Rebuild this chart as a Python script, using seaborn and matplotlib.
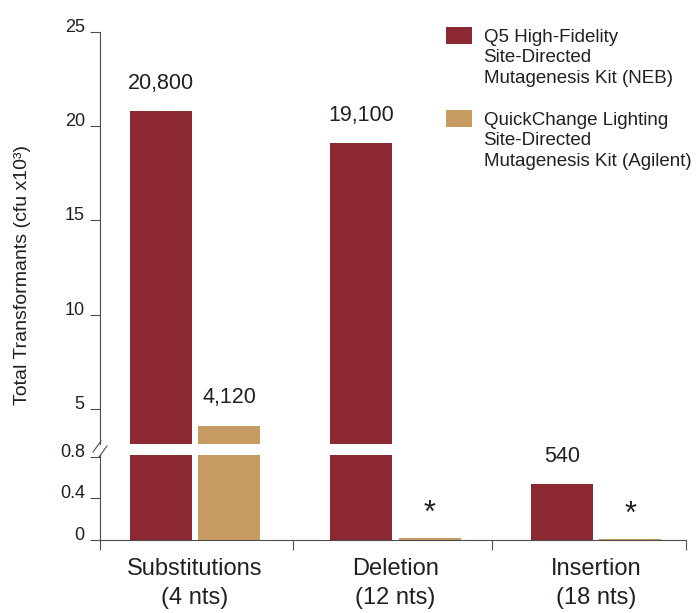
import pandas as pd
import seaborn as sns
import matplotlib.pyplot as plt
from matplotlib.patches import Patch
from matplotlib.lines import Line2D

# data (cfu x10^3)
categories = ["Substitutions\n(4 nts)", "Deletion\n(12 nts)", "Insertion\n(18 nts)"]
kits = ["Q5 High-Fidelity\nSite-Directed\nMutagenesis Kit (NEB)",
        "QuickChange Lighting\nSite-Directed\nMutagenesis Kit (Agilent)"]
q5_values = [20.8, 19.1, 0.54]
quickchange_values = [4.12, 0.02, 0.01]
upper_ticks = [5, 10, 15, 20, 25]
lower_ticks = [0, 0.4, 0.8]
lower_tick_labels = ["0", "0.4", "0.8"]

colors = ["#8b2832", "#c89b63"]
text_color = "#231f20"
axis_color = "#4d4d4d"

df = pd.DataFrame({
    "category": categories * 2,
    "kit": [kits[0]] * len(categories) + [kits[1]] * len(categories),
    "value": q5_values + quickchange_values,
})

sns.set_style("ticks")
plt.rcParams["font.family"] = ["Liberation Sans", "DejaVu Sans"]

fig = plt.figure(figsize=(7, 6.13), dpi=100)
# broken y axis: two stacked axes
ax_top = fig.add_axes([0.1429, 0.2757, 0.837, 0.6726])
ax_bot = fig.add_axes([0.1429, 0.1191, 0.837, 0.1387])
top_lim = (3.14, 25)
bot_lim = (0, 0.817)
x_lim = (-0.474, 2.449)
group_edges = [-0.474, 0.489, 1.481, 2.449]

for ax in (ax_top, ax_bot):
    sns.barplot(data=df, x="category", y="value", hue="kit", palette=colors,
                width=0.68, gap=0.09, saturation=1, linewidth=0,
                ax=ax, legend=False)
    ax.set_xlim(*x_lim)
    ax.set_xlabel("")
    ax.set_ylabel("")
    ax.spines[["top", "right"]].set_visible(False)
    for s in ax.spines.values():
        s.set_color(axis_color)
        s.set_linewidth(0.8)
    ax.tick_params(axis="y", length=7, width=0.8, pad=4, labelsize=13,
                   color=axis_color, labelcolor=text_color)

# upper part
ax_top.set_ylim(*top_lim)
ax_top.spines["bottom"].set_visible(False)
ax_top.tick_params(axis="x", bottom=False, labelbottom=False)
ax_top.set_yticks(upper_ticks)
ax_top.set_yticklabels([str(t) for t in upper_ticks])

# lower part
ax_bot.set_ylim(*bot_lim)
ax_bot.set_yticks(lower_ticks)
ax_bot.set_yticklabels(lower_tick_labels)
ax_bot.set_xticks(group_edges)
ax_bot.set_xticklabels([])
ax_bot.set_xticks([0, 1, 2], minor=True)
ax_bot.set_xticklabels(categories, minor=True, fontsize=17,
                       linespacing=1.4, color=text_color)
ax_bot.tick_params(axis="x", which="major", length=7, width=0.8, color=axis_color)
ax_bot.tick_params(axis="x", which="minor", length=0, pad=13)

for ax in (ax_top, ax_bot):
    plt.setp(ax.get_yticklabels(), va="baseline")

# value labels
for p in ax_top.patches:
    h = p.get_height()
    cx = p.get_x() + p.get_width() / 2
    if h > top_lim[0]:
        ax_top.annotate(f"{h * 1000:,.0f}", (cx, h), xytext=(0, 20),
                        textcoords="offset points", ha="center", va="center",
                        fontsize=15.5, color=text_color)
for p in ax_bot.patches:
    h = p.get_height()
    cx = p.get_x() + p.get_width() / 2
    if h < 0.05:
        ax_bot.annotate("*", (cx, h), xytext=(0, 17), textcoords="offset points",
                        ha="center", va="center", fontsize=22, color=text_color)
    elif h < bot_lim[1]:
        ax_bot.annotate(f"{h * 1000:,.0f}", (cx, h), xytext=(0, 20),
                        textcoords="offset points", ha="center", va="center",
                        fontsize=15.5, color=text_color)

# break marks on y axis
for (x1, y1, x2, y2) in [(93, 452, 101, 441), (99, 457, 107, 446)]:
    fig.add_artist(Line2D([x1 / 700, x2 / 700], [1 - y1 / 613, 1 - y2 / 613],
                          transform=fig.transFigure, color=axis_color, lw=0.8))

fig.text(0.032, 0.551, "Total Transformants (cfu x10³)", rotation=90,
         ha="center", va="center", fontsize=14, color=text_color)

# legend, one row per text line so the swatch sits at the first line
handles, labels = [], []
for i, (kit, c) in enumerate(zip(kits, colors)):
    parts = kit.split("\n")
    if i > 0:
        handles.append(Patch(fc="none", ec="none"))
        labels.append(" ")
    handles.append(Patch(fc=c, ec="none"))
    labels.append(parts[0])
    for part in parts[1:]:
        handles.append(Patch(fc="none", ec="none"))
        labels.append(part)
fig.legend(handles, labels, loc="upper left", bbox_to_anchor=(446 / 700, 1 - 27 / 613),
           frameon=False, fontsize=13.5, handlelength=1.4, handleheight=1.0,
           handletextpad=0.6, labelspacing=0.1, borderpad=0, borderaxespad=0,
           labelcolor=text_color)

fig.savefig("out.png", dpi=100)
